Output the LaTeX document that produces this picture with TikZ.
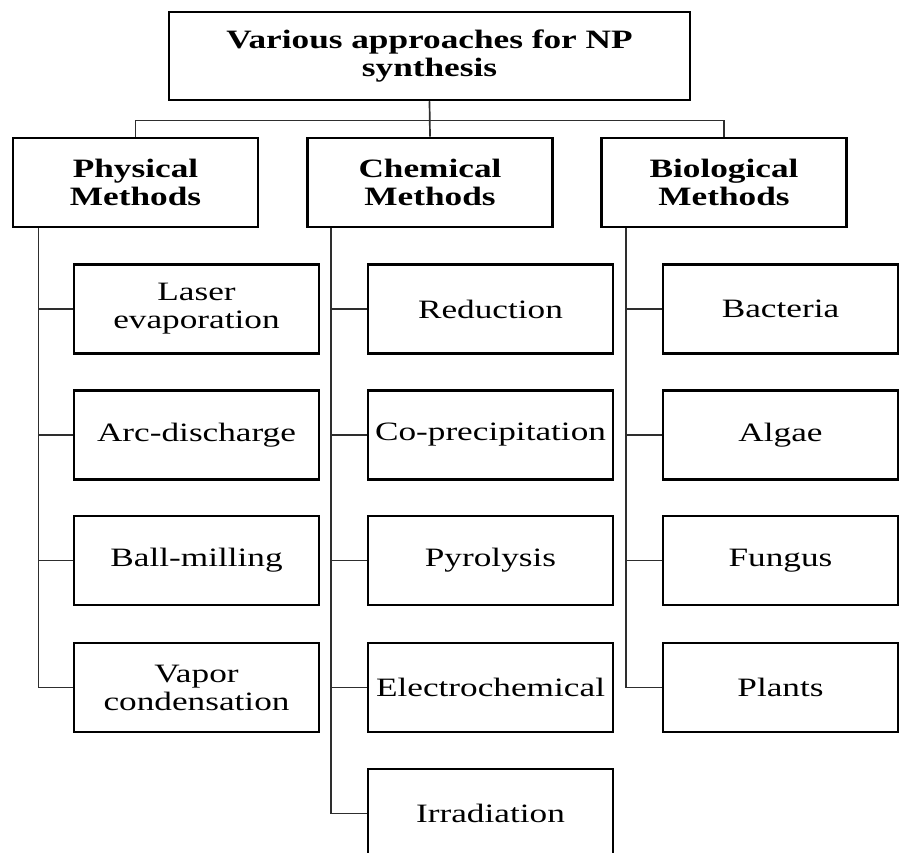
\documentclass[tikz,border=0pt]{standalone}
\usepackage{fontspec}
\setmainfont{Liberation Serif}[FakeStretch=1.33]
\usepackage{tikz}
\usetikzlibrary{calc}

\begin{document}
\begin{tikzpicture}[x=1pt, y=-1pt,
    box/.style={draw, rectangle, line width=2.8pt, inner sep=0pt, align=center,
                minimum width=245pt, minimum height=89pt,
                font=\fontsize{26.5}{28}\selectfont},
    head/.style={box, font=\fontsize{26.5}{27.5}\selectfont\bfseries},
    link/.style={line width=1.7pt, draw=black!82}]
  \useasboundingbox (0,0) rectangle (900,852);
  \clip (0,0) rectangle (900,852);
  % top
  \node [head, minimum width=521pt, minimum height=88pt] (top) at (429.5, 56) {Various approaches for NP\\synthesis};
  % methods
  \node [head] (phys) at (135.5, 182.5) {Physical\\Methods};
  \node [head] (chem) at (430  , 182.5) {Chemical\\Methods};
  \node [head] (bio)  at (724  , 182.5) {Biological\\Methods};
  \draw [link] (top.south) -- ++(0,19) -| (phys.north);
  \draw [link] (top.south) -- ++(0,19) -| (bio.north);
  \draw [link] (top.south) -- (chem.north);
  % physical
  \node [box] (laser) at (196.5, 309  ) {Laser\\evaporation};
  \node [box] (arc)   at (196.5, 435  ) {Arc-discharge};
  \node [box] (ball)  at (196.5, 560.5) {Ball-milling};
  \node [box] (vapor) at (196.5, 687.5) {Vapor\\condensation};
  \draw [link] ($(phys.south west)+(27,0)$) |- (laser.west);
  \draw [link] ($(phys.south west)+(27,0)$) |- (arc.west);
  \draw [link] ($(phys.south west)+(27,0)$) |- (ball.west);
  \draw [link] ($(phys.south west)+(27,0)$) |- (vapor.west);
  % chemical
  \node [box] (red)     at (490.5, 309  ) {Reduction};
  \node [box] (coprec)  at (490.5, 435  ) {Co-precipitation};
  \node [box] (pyro)    at (490.5, 560.5) {Pyrolysis};
  \node [box] (electro) at (490.5, 687.5) {Electrochemical};
  \node [box] (irrad)   at (490.5, 813.5) {Irradiation};
  \draw [link] ($(chem.south west)+(25,0)$) |- (red.west);
  \draw [link] ($(chem.south west)+(25,0)$) |- (coprec.west);
  \draw [link] ($(chem.south west)+(25,0)$) |- (pyro.west);
  \draw [link] ($(chem.south west)+(25,0)$) |- (electro.west);
  \draw [link] ($(chem.south west)+(25,0)$) |- (irrad.west);
  % biological
  \node [box, minimum width=235pt] (bact)   at (780.5, 309  ) {Bacteria};
  \node [box, minimum width=235pt] (algae)  at (780.5, 435  ) {Algae};
  \node [box, minimum width=235pt] (fungus) at (780.5, 560.5) {Fungus};
  \node [box, minimum width=235pt] (plants) at (780.5, 687.5) {Plants};
  \draw [link] ($(bio.south west)+(26,0)$) |- (bact.west);
  \draw [link] ($(bio.south west)+(26,0)$) |- (algae.west);
  \draw [link] ($(bio.south west)+(26,0)$) |- (fungus.west);
  \draw [link] ($(bio.south west)+(26,0)$) |- (plants.west);
\end{tikzpicture}
\end{document}
